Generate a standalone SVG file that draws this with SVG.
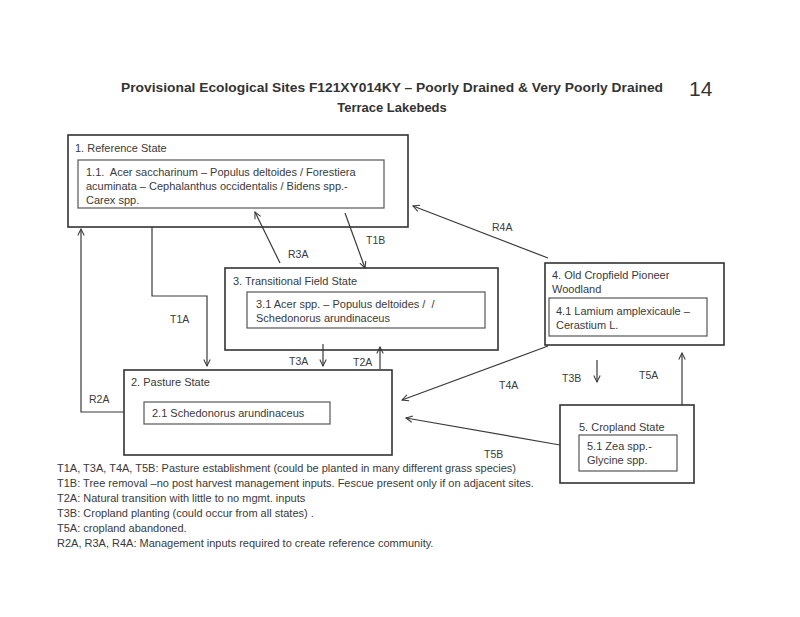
<svg xmlns="http://www.w3.org/2000/svg" width="800" height="617" viewBox="0 0 800 617">
<defs>
<style>
text{font-family:"Liberation Sans",Arial,sans-serif;fill:#3a3a3a;font-size:11px}
.lbl{font-size:10.5px}
.title{font-weight:bold;font-size:13px;fill:#333}
.num{font-size:21px;fill:#333}
.outer{fill:none;stroke:#333;stroke-width:1.6}
.inner{fill:none;stroke:#555;stroke-width:1.2}
.conn{fill:none;stroke:#3a3a3a;stroke-width:1.2}
</style>
<marker id="ah" viewBox="0 0 10 10" refX="9" refY="5" markerWidth="8" markerHeight="8" orient="auto" markerUnits="userSpaceOnUse">
<path d="M1,1 L9,5 L1,9" fill="none" stroke="#3a3a3a" stroke-width="1.3"/>
</marker>
</defs>
<rect width="800" height="617" fill="#fff"/>
<g id="title">
<text class="title" x="392" y="92" text-anchor="middle" textLength="542" lengthAdjust="spacingAndGlyphs">Provisional Ecological Sites F121XY014KY – Poorly Drained &amp; Very Poorly Drained</text>
<text class="title" x="392" y="112" text-anchor="middle">Terrace Lakebeds</text>
<text class="num" x="689" y="96">14</text>
</g>
<g id="connectors">
<path class="conn" d="M152,227 V296 H207 V366" marker-end="url(#ah)"/>
<path class="conn" d="M124,412 H81 V229" marker-end="url(#ah)"/>
<path class="conn" d="M280,263 L255,212" marker-end="url(#ah)"/>
<path class="conn" d="M345,213 L365,268" marker-end="url(#ah)"/>
<path class="conn" d="M323,344 V366" marker-end="url(#ah)"/>
<path class="conn" d="M380,369 V347" marker-end="url(#ah)"/>
<path class="conn" d="M548,258 L413,206" marker-end="url(#ah)"/>
<path class="conn" d="M548,346 L402,400" marker-end="url(#ah)"/>
<path class="conn" d="M597,360 V382" marker-end="url(#ah)"/>
<path class="conn" d="M682,405 V353" marker-end="url(#ah)"/>
<path class="conn" d="M560,445 L406,418" marker-end="url(#ah)"/>
<text class="lbl" x="170" y="323">T1A</text>
<text class="lbl" x="89" y="403">R2A</text>
<text class="lbl" x="288" y="258">R3A</text>
<text class="lbl" x="366" y="244">T1B</text>
<text class="lbl" x="289" y="365">T3A</text>
<text class="lbl" x="353" y="366">T2A</text>
<text class="lbl" x="492" y="231">R4A</text>
<text class="lbl" x="499" y="389">T4A</text>
<text class="lbl" x="562" y="382">T3B</text>
<text class="lbl" x="639" y="379">T5A</text>
<text class="lbl" x="484" y="458">T5B</text>
</g>
<g id="state1">
<rect class="outer" x="68" y="135" width="340" height="92"/>
<text x="75" y="152">1. Reference State</text>
<rect class="inner" x="78" y="160" width="306" height="48"/>
<text x="86" y="176">1.1.&#160; Acer saccharinum – Populus deltoides / Forestiera</text>
<text x="86" y="190">acuminata – Cephalanthus occidentalis / Bidens spp.-</text>
<text x="86" y="204">Carex spp.</text>
</g>
<g id="state3">
<rect class="outer" x="225" y="268" width="273" height="82"/>
<text x="233" y="285">3. Transitional Field State</text>
<rect class="inner" x="247" y="292" width="238" height="36"/>
<text x="256" y="308">3.1 Acer spp. – Populus deltoides /&#160; /</text>
<text x="256" y="322">Schedonorus arundinaceus</text>
</g>
<g id="state4">
<rect class="outer" x="545" y="263" width="179" height="82"/>
<text x="552" y="279">4. Old Cropfield Pioneer</text>
<text x="552" y="293">Woodland</text>
<rect class="inner" x="549" y="298" width="158" height="38"/>
<text x="556" y="315">4.1 Lamium amplexicaule –</text>
<text x="556" y="329">Cerastium L.</text>
</g>
<g id="state2">
<rect class="outer" x="124" y="370" width="268" height="85"/>
<text x="131" y="386">2. Pasture State</text>
<rect class="inner" x="144" y="402" width="186" height="22"/>
<text x="152" y="417">2.1 Schedonorus arundinaceus</text>
</g>
<g id="state5">
<rect class="outer" x="560" y="405" width="134" height="78"/>
<text x="579" y="431">5. Cropland State</text>
<rect class="inner" x="579" y="435" width="98" height="36"/>
<text x="587" y="450">5.1 Zea spp.-</text>
<text x="587" y="464">Glycine spp.</text>
</g>
<g id="legend">
<text x="57" y="472">T1A, T3A, T4A, T5B: Pasture establishment (could be planted in many different grass species)</text>
<text x="57" y="487">T1B: Tree removal –no post harvest management inputs. Fescue present only if on adjacent sites.</text>
<text x="57" y="502">T2A: Natural transition with little to no mgmt. inputs</text>
<text x="57" y="517">T3B: Cropland planting (could occur from all states) .</text>
<text x="57" y="532">T5A: cropland abandoned.</text>
<text x="57" y="547">R2A, R3A, R4A: Management inputs required to create reference community.</text>
</g>
</svg>
